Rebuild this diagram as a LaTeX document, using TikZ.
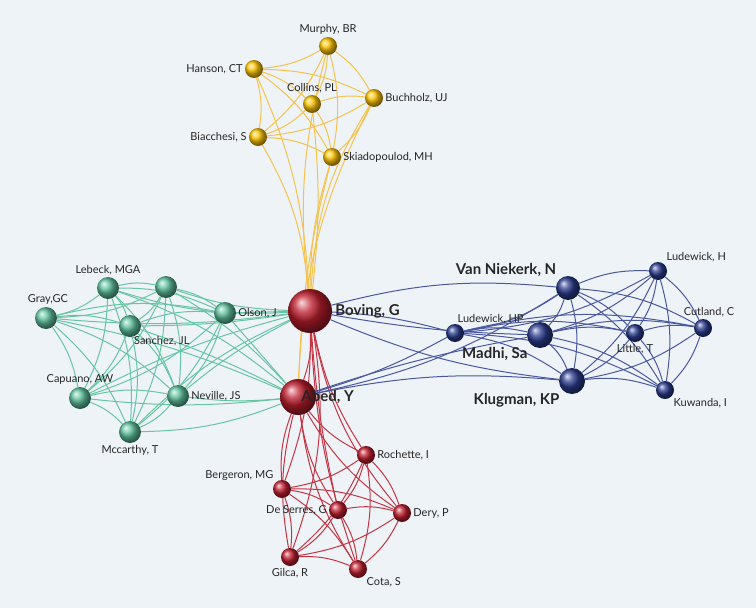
\documentclass[tikz,border=0pt]{standalone}
\usepackage{fontspec}
\setmainfont{Lato}
\pgfdeclarelayer{bg}
\pgfdeclarelayer{edges}
\pgfsetlayers{bg,edges,main}
\definecolor{paper}{HTML}{EEF3F8}
\definecolor{ylw}{HTML}{F6C24C}
\definecolor{org}{HTML}{FFC400}
\definecolor{grn}{HTML}{4DBB93}
\definecolor{rd}{HTML}{C01E2E}
\definecolor{blu}{HTML}{2A3C8E}
\tikzset{
  dot/.style={circle,inner sep=0pt,shading=ball},
  ynode/.style={dot,minimum size=18pt,ball color=org},
  gnode/.style={dot,minimum size=22pt,ball color=grn!90!white},
  rnode/.style={dot,minimum size=18pt,ball color=rd},
  bnode/.style={dot,minimum size=18pt,ball color=blu},
  lbl/.style={font=\fontsize{11}{12}\selectfont,text=black!85,inner sep=2pt},
  big/.style={font=\fontsize{15}{16}\selectfont\bfseries,text=black!85,inner sep=3pt},
  yedge/.style={ylw,line width=1pt},
  gedge/.style={grn!85,line width=1pt},
  redge/.style={rd!90,line width=1pt},
  bedge/.style={blu!85,line width=1pt},
}
\begin{document}
\begin{tikzpicture}[x=1pt,y=-1pt]
\useasboundingbox (0,0) rectangle (756,608);
\begin{pgfonlayer}{bg}
\fill[paper] (0,0) rectangle (756,608);
\end{pgfonlayer}
% yellow group
\node[ynode,label={[lbl]above:{Murphy, BR}}] (murphy) at (328,46) {};
\node[ynode,label={[lbl]left:{Hanson, CT}}] (hanson) at (254,69) {};
\node[ynode,label={[lbl]above:{Collins, PL}}] (collins) at (312,104) {};
\node[ynode,label={[lbl]right:{Buchholz, UJ}}] (buchholz) at (374,98) {};
\node[ynode,label={[lbl]left:{Biacchesi, S}}] (biacchesi) at (258,137) {};
\node[ynode,label={[lbl]right:{Skiadopoulod, MH}}] (skiado) at (332,157) {};
% green group
\node[gnode,label={[lbl]above:{Lebeck, MGA}}] (lebeck) at (108,288) {};
\node[gnode] (gx) at (166,287) {};
\node[gnode,label={[lbl,xshift=2pt]above:{Gray,GC}}] (gray) at (46,318) {};
\node[gnode,label={[lbl,xshift=-6pt]below right:{Sanchez, JL}}] (sanchez) at (130,326) {};
\node[gnode,label={[lbl]right:{Olson, J}}] (olson) at (225,313) {};
\node[gnode,label={[lbl]above:{Capuano, AW}}] (capuano) at (80,398) {};
\node[gnode,label={[lbl]right:{Neville, JS}}] (neville) at (178,396) {};
\node[gnode,label={[lbl]below:{Mccarthy, T}}] (mccarthy) at (130,432) {};
% red group
\node[rnode,minimum size=44pt,label={[big]right:{Boving, G}}] (boving) at (310,311) {};
\node[rnode,minimum size=36pt,label={[big,xshift=-18pt]right:{Abed, Y}}] (abed) at (298,397) {};
\node[rnode,label={[lbl]right:{Rochette, I}}] (rochette) at (366,455) {};
\node[rnode,label={[lbl]above left:{Bergeron, MG}}] (bergeron) at (282,489) {};
\node[rnode,label={[lbl]left:{De Serres, G}}] (deserres) at (338,510) {};
\node[rnode,label={[lbl]right:{Dery, P}}] (dery) at (402,513) {};
\node[rnode,label={[lbl]below:{Gilca, R}}] (gilca) at (290,557) {};
\node[rnode,label={[lbl]below right:{Cota, S}}] (cota) at (358,569) {};
% blue group
\node[bnode,minimum size=24pt,label={[big]above left:{Van Niekerk, N}}] (vanniekerk) at (568,288) {};
\node[bnode,label={[lbl]above right:{Ludewick, H}}] (ludh) at (658,271) {};
\node[bnode,label={[lbl,xshift=-6pt]above right:{Ludewick, HP}}] (ludhp) at (455,333) {};
\node[bnode,minimum size=26pt,label={[big]below left:{Madhi, Sa}}] (madhi) at (540,335) {};
\node[bnode,label={[lbl]below:{Little, T}}] (little) at (635,333) {};
\node[bnode,label={[lbl,xshift=6pt]above:{Cutland, C}}] (cutland) at (703,328) {};
\node[bnode,minimum size=26pt,label={[big]below left:{Klugman, KP}}] (klugman) at (572,381) {};
\node[bnode,label={[lbl]below right:{Kuwanda, I}}] (kuwanda) at (665,390) {};
\begin{pgfonlayer}{edges}
% within groups
\foreach \st/\grp in {yedge/{murphy,hanson,collins,buchholz,biacchesi,skiado},
  gedge/{lebeck,gx,gray,sanchez,olson,capuano,neville,mccarthy},
  redge/{rochette,bergeron,deserres,dery,gilca,cota,abed},
  bedge/{vanniekerk,ludh,ludhp,madhi,little,cutland,klugman,kuwanda}}{
  \foreach \a [count=\i] in \grp {
    \foreach \b [count=\j] in \grp {
      \ifnum\j>\i \draw[\st] (\a) to[bend left=12] (\b); \fi
    }
  }
}
% to the hubs
\foreach \a/\ang in {murphy/-10,hanson/10,collins/6,buchholz/-14,biacchesi/12,skiado/-8}
  \draw[yedge] (\a) to[bend left=\ang] (boving);
\foreach \a/\ang in {buchholz/-12,skiado/-6}
  \draw[yedge] (\a) to[bend left=\ang] (abed);
\foreach \a/\ang in {lebeck/-10,gx/-8,gray/-6,sanchez/-4,olson/0,capuano/6,neville/6,mccarthy/10}{
  \draw[gedge] (\a) to[bend left=\ang] (boving);
  \draw[gedge] (\a) to[bend right=\ang] (abed);
}
\foreach \a/\ang in {rochette/10,bergeron/-10,deserres/4,dery/14,gilca/-14,cota/8}
  \draw[redge] (\a) to[bend left=\ang] (boving);
\draw[redge] (boving) to[bend left=10] (abed);
\foreach \a/\ang in {vanniekerk/10,ludhp/6,madhi/-4,klugman/-8}{
  \draw[bedge] (\a) to[bend right=\ang] (boving);
  \draw[bedge] (\a) to[bend left=\ang] (abed);
}
\end{pgfonlayer}
\end{tikzpicture}
\end{document}
